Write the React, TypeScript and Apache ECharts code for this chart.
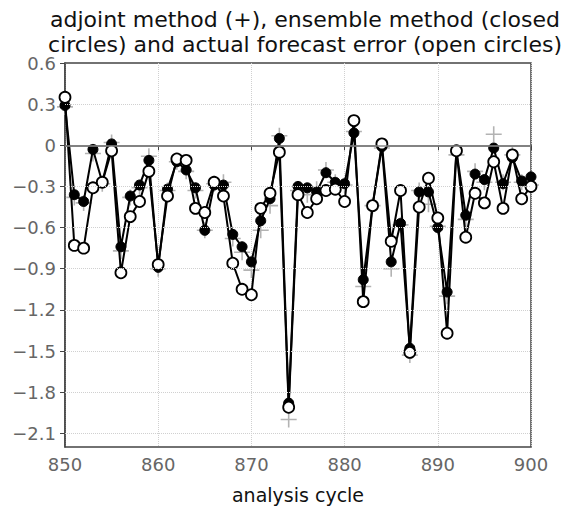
import React, { useEffect, useRef } from "react";
import * as echarts from "echarts";

const cycles: number[] = [];
for (let c = 850; c <= 900; c++) cycles.push(c);

const ensemble = [
  0.29, -0.36, -0.41, -0.03, -0.27, 0.01, -0.74, -0.37, -0.29, -0.11,
  -0.89, -0.32, -0.12, -0.18, -0.31, -0.62, -0.29, -0.29, -0.65, -0.74,
  -0.85, -0.55, -0.39, 0.05, -1.88, -0.30, -0.31, -0.34, -0.20, -0.27,
  -0.28, 0.09, -0.98, -0.44, -0.01, -0.85, -0.57, -1.48, -0.34, -0.34,
  -0.60, -1.07, -0.04, -0.51, -0.21, -0.25, -0.02, -0.28, -0.09, -0.26,
  -0.23,
];
const actual = [
  0.35, -0.73, -0.75, -0.31, -0.27, -0.04, -0.93, -0.52, -0.41, -0.19,
  -0.87, -0.37, -0.10, -0.11, -0.46, -0.49, -0.27, -0.37, -0.86, -1.05,
  -1.09, -0.46, -0.35, -0.05, -1.91, -0.36, -0.49, -0.39, -0.33, -0.32,
  -0.41, 0.18, -1.14, -0.44, 0.01, -0.70, -0.33, -1.51, -0.45, -0.24,
  -0.53, -1.37, -0.04, -0.67, -0.35, -0.42, -0.12, -0.46, -0.07, -0.39,
  -0.30,
];
const adjoint = [
  0.28, -0.38, -0.42, -0.06, -0.28, 0.02, -0.77, -0.38, -0.31, -0.08,
  -0.90, -0.33, -0.12, -0.19, -0.33, -0.62, -0.28, -0.27, -0.68, -0.78,
  -0.91, -0.62, -0.44, 0.07, -2.0, -0.33, -0.36, -0.32, -0.18, -0.27,
  -0.29, 0.1, -1.03, -0.44, -0.02, -0.9, -0.58, -1.53, -0.33, -0.43,
  -0.59, -1.1, -0.07, -0.54, -0.19, -0.27, 0.08, -0.27, -0.07, -0.27,
  -0.29,
];
const yTicks = [0.6, 0.3, 0, -0.3, -0.6, -0.9, -1.2, -1.5, -1.8, -2.1];
const xTicks = [850, 860, 870, 880, 890, 900];

const pair = (vals: number[]) => vals.map((v, i) => [cycles[i], v]);

const fmt = (v: number) => {
  if (Math.abs(v) < 1e-9) return "0";
  const s = Math.abs(v).toFixed(1);
  return v < 0 ? "\u2212" + s : s;
};

export default function App() {
  const ref = useRef<HTMLDivElement>(null);
  useEffect(() => {
    if (!ref.current) return;
    const chart = echarts.init(ref.current, null, { renderer: "svg" });
    const font = "DejaVu Sans";
    chart.setOption({
      animation: false,
      backgroundColor: "#fff",
      title: {
        text: "adjoint method (+), ensemble method (closed\ncircles) and actual forecast error (open circles)",
        left: 300,
        textAlign: "center",
        top: 2,
        textStyle: {
          fontFamily: font,
          fontSize: 22,
          fontWeight: "normal",
          color: "#111",
          lineHeight: 25,
        },
      },
      grid: {
        left: 65,
        right: 33,
        top: 63,
        bottom: 52,
        show: true,
        borderColor: "#444",
        borderWidth: 1.5,
        backgroundColor: "#fff",
      },
      xAxis: {
        type: "value",
        min: 850,
        max: 900,
        interval: 10,
        name: "analysis cycle",
        nameLocation: "middle",
        nameGap: 38,
        nameTextStyle: { fontFamily: font, fontSize: 19, color: "#111" },
        axisLine: { show: true, lineStyle: { color: "#444", width: 1.5 } },
        axisTick: { show: true, length: 5, lineStyle: { color: "#444" } },
        axisLabel: {
          customValues: xTicks,
          fontFamily: font,
          fontSize: 18,
          color: "#666",
          margin: 8,
        },
        splitLine: {
          show: true,
          lineStyle: { color: "#d0d0d0", type: "dotted", width: 1 },
        },
      },
      yAxis: {
        type: "value",
        min: -2.2,
        max: 0.6,
        axisLine: { show: true, lineStyle: { color: "#444", width: 1.5 } },
        axisTick: {
          show: true,
          length: 5,
          customValues: yTicks,
          lineStyle: { color: "#444" },
        },
        axisLabel: {
          customValues: yTicks,
          formatter: (v: number) => fmt(v),
          fontFamily: font,
          fontSize: 18,
          color: "#666",
          margin: 9,
        },
        splitLine: { show: false },
      },
      series: [
        {
          name: "grid",
          type: "line",
          data: [],
          silent: true,
          markLine: {
            silent: true,
            symbol: "none",
            label: { show: false },
            data: yTicks
              .filter((v) => Math.abs(v) > 1e-9 && v < 0.59)
              .map((v) => ({
                yAxis: v,
                lineStyle: { color: "#d0d0d0", type: "dotted", width: 1 },
              }))
              .concat([
                {
                  yAxis: 0,
                  lineStyle: { color: "#888", type: "solid", width: 1.5 },
                } as any,
              ]),
          },
        },
        {
          name: "adjoint",
          type: "scatter",
          data: pair(adjoint),
          symbol: "path://M9,0H11V9H20V11H11V20H9V11H0V9H9Z",
          symbolSize: 16,
          itemStyle: { color: "#a0a0a0" },
          z: 2,
        },
        {
          name: "ensemble",
          type: "line",
          data: pair(ensemble),
          symbol: "circle",
          symbolSize: 10,
          showAllSymbol: true,
          lineStyle: { color: "#000", width: 2 },
          itemStyle: { color: "#000", borderColor: "#000", borderWidth: 1 },
          z: 3,
        },
        {
          name: "actual",
          type: "line",
          data: pair(actual),
          symbol: "circle",
          symbolSize: 11,
          showAllSymbol: true,
          lineStyle: { color: "#000", width: 2 },
          itemStyle: { color: "#fff", borderColor: "#000", borderWidth: 1.8 },
          z: 4,
        },
      ],
    });
    return () => chart.dispose();
  }, []);
  return (
    <div
      ref={ref}
      style={{ position: "fixed", left: 0, top: 0, width: 564, height: 509 }}
    />
  );
}
